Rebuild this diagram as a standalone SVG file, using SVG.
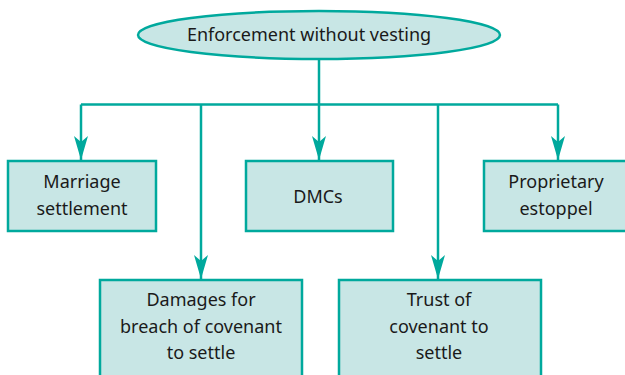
<svg xmlns="http://www.w3.org/2000/svg" width="625" height="375" viewBox="0 0 625 375">
  <defs>
    <style>
      .node { fill: #c8e6e5; stroke: #00a99d; stroke-width: 2.5; }
      .lbl { font-family: "Noto Sans", "Open Sans", sans-serif; font-size: 18px; fill: #1a1a1a; text-anchor: middle; }
      .wire { fill: none; stroke: #00a99d; stroke-width: 2.5; }
    </style>
    <!-- notched arrowhead, tip at the end of the line -->
    <marker id="arrow" viewBox="0 0 24 14" refX="24" refY="7" markerWidth="24" markerHeight="14" markerUnits="userSpaceOnUse" orient="auto">
      <path d="M0,0 L24,7 L0,14 L6,7 Z" fill="#00a99d"/>
    </marker>
  </defs>

  <!-- connectors -->
  <g id="connectors">
    <path class="wire" d="M319,59 V104.5"/>
    <path class="wire" d="M81,104.5 H558"/>
    <path class="wire" d="M81,104.5 V160" marker-end="url(#arrow)"/>
    <path class="wire" d="M201,104.5 V279" marker-end="url(#arrow)"/>
    <path class="wire" d="M319,104.5 V160" marker-end="url(#arrow)"/>
    <path class="wire" d="M438,104.5 V279" marker-end="url(#arrow)"/>
    <path class="wire" d="M558,104.5 V160" marker-end="url(#arrow)"/>
  </g>

  <g id="root">
    <ellipse class="node" cx="319" cy="35" rx="181" ry="24"/>
    <text class="lbl" x="309" y="41">Enforcement without vesting</text>
  </g>

  <g id="marriage-settlement">
    <rect class="node" x="8" y="161" width="148" height="70"/>
    <text class="lbl" x="82" y="188">Marriage</text>
    <text class="lbl" x="82" y="215">settlement</text>
  </g>

  <g id="dmcs">
    <rect class="node" x="246" y="161" width="147" height="70"/>
    <text class="lbl" x="318" y="203">DMCs</text>
  </g>

  <g id="proprietary-estoppel">
    <rect class="node" x="484" y="161" width="150" height="70"/>
    <text class="lbl" x="556" y="188">Proprietary</text>
    <text class="lbl" x="556" y="215">estoppel</text>
  </g>

  <g id="damages">
    <rect class="node" x="100" y="280" width="202" height="110"/>
    <text class="lbl" x="201" y="306">Damages for</text>
    <text class="lbl" x="201" y="333">breach of covenant</text>
    <text class="lbl" x="201" y="359">to settle</text>
  </g>

  <g id="trust-of-covenant">
    <rect class="node" x="339" y="280" width="202" height="110"/>
    <text class="lbl" x="439" y="306">Trust of</text>
    <text class="lbl" x="439" y="333">covenant to</text>
    <text class="lbl" x="439" y="359">settle</text>
  </g>
</svg>
